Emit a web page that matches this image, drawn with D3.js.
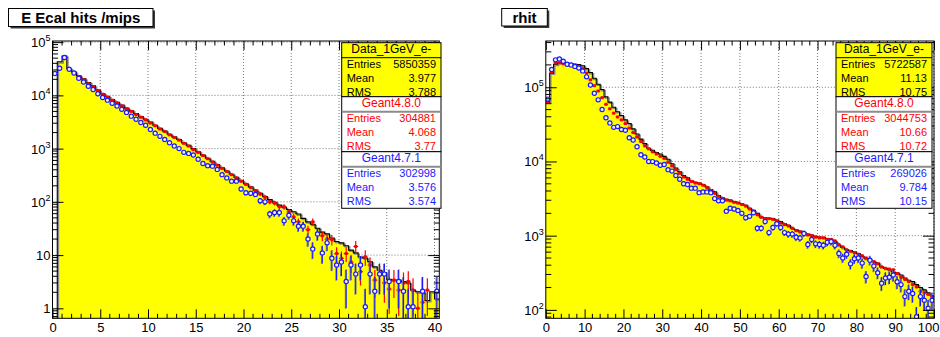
<!DOCTYPE html>
<html>
<head>
<meta charset="utf-8">
<script src="https://cdn.jsdelivr.net/npm/d3@7"></script>
<style>
  body { margin: 0; background: #fff; }
  svg { display: block; font-family: "Liberation Sans", Arial, sans-serif; }
</style>
</head>
<body>
<div id="chart"></div>
<script>
// ---- E Ecal hits /mips : 81 bins of 0.5 ----
const ecalData = [0,42700,55000,31600,27500,23400,20400,17400,15100,12600,
  10700,9550,8320,7410,6610,5750,5130,4570,3980,3550,
  3160,2750,2400,2140,1860,1660,1480,1290,1150,1000,
  871,759,661,575,501,437,380,331,288,251,
  219,191,166,145,126,110,98,87,79,72,
  65,59,49,42,38,32,27,25,21,18,
  17,15,12.4,11,9.2,8.8,7.5,6.0,5.2,4.6,
  3.5,3.4,3.4,3.2,3.0,2.2,2.05,2.0,1.4,2.05,
  1.5];
const ecalG480 = [0,32400,51300,30900,26900,22400,19500,16600,14500,12300,
  10500,9330,8130,7240,6310,5620,5010,4370,3890,3470,
  3020,2690,2340,2090,1820,1620,1450,1260,1120,955,
  851,741,646,562,490,427,372,324,282,245,
  214,186,162,141,123,100,95,81,81,65,
  52,42,36,30,42,26,23,20,19.5,10.7,
  8.7,10.7,7.4,14.5,4.9,9.3,6.5,3.4,4.2,3.0,
  2.3,3.4,2.2,3.0,3.2,2.2,1.0,1.3,2.2,0,
  0];
const ecalG471 = [25700,32400,51300,30900,26300,20900,17800,14800,12900,10700,
  9120,8130,7080,6310,5500,4790,4070,3550,3090,2750,
  2290,1950,1700,1480,1290,1120,1000,851,813,759,
  631,525,479,468,407,324,282,245,245,174,
  148,145,138,105,100,59,63,63,44,56,
  44,35,35,20,13,25,11,17,8.7,6.5,
  7.4,3.2,6.5,4.4,6.5,1.07,4.4,2.1,4.4,4.4,
  3.2,0,3.2,2.1,1.07,1.07,0,2.1,0,0,
  2.1];

// ---- rhit : 100 bins of 1 ----
const rhitData = [63100,155000,204000,214000,209000,209000,208000,204000,203000,195000,
  178000,158000,132000,110000,93300,74100,63100,53700,46800,41700,
  36300,32400,27500,23400,20000,17400,15100,14100,13200,12600,
  11700,10700,9330,8130,7240,6460,6030,5500,5250,5130,
  4900,4570,4170,3890,3470,3240,3090,3020,2880,2820,
  2690,2570,2340,2190,2000,1780,1740,1730,1700,1620,
  1550,1450,1380,1260,1200,1150,1100,1050,1020,980,
  955,950,912,891,832,741,692,646,631,603,
  575,525,490,468,447,427,380,363,347,324,
  316,295,269,251,240,219,200,186,170,155];
const rhitG480 = [63100,162000,214000,214000,209000,204000,204000,200000,191000,178000,
  155000,126000,105000,89100,72400,58900,51300,44700,39800,36300,
  32400,28200,24500,21400,18600,16200,14800,13500,12600,11700,
  11000,9770,8710,7760,6920,6170,5750,5370,5130,5010,
  4790,4470,4070,3720,3390,3160,3020,2950,2820,2750,
  2630,2510,2290,2140,1910,1780,1700,1700,1660,1580,
  1480,1410,1350,1260,1170,1120,1070,1020,1000,955,
  933,933,891,891,851,759,708,646,617,589,
  562,537,501,479,447,417,380,363,355,347,
  309,275,257,240,219,204,178,170,162,151];
const rhitG471 = [69200,174000,234000,240000,224000,204000,200000,191000,182000,166000,
  138000,107000,83200,67600,50100,38900,33100,28800,29500,26900,
  26300,20900,19500,15800,12300,11500,10000,9950,9550,8910,
  9120,7760,7410,6460,5750,5010,4900,4370,4370,3800,
  3890,3890,3800,3160,2950,2950,2140,2340,2290,2190,
  2000,1740,1820,2040,1260,1260,1550,1100,1290,1450,
  1290,1100,1050,1050,955,933,1070,759,891,776,
  759,741,813,832,741,575,501,562,417,490,
  501,427,282,468,389,316,229,269,275,295,
  240,219,151,178,166,81,151,135,105,135];

// ---- stat boxes ----
const statTitles = ["Data_1GeV_e-", "Geant4.8.0", "Geant4.7.1"];
const statLabels = ["Entries", "Mean", "RMS"];
const ecalStats = [["5850359", "3.977", "3.788"], ["304881", "4.068", "3.77"], ["302998", "3.576", "3.574"]];
const rhitStats = [["5722587", "11.13", "10.75"], ["3044753", "10.66", "10.72"], ["269026", "9.784", "10.15"]];

const W = 940, H = 337;
const svg = d3.select("#chart").append("svg").attr("width", W).attr("height", H);

const panels = [
  { id: "ecal", title: "E Ecal hits /mips", titleBox: [8.5, 8.5, 144.5, 18],
    left: 52.5, right: 439.3, top: 41, bottom: 318.3,
    xDomain: [0, 40.5], yDomain: [0.65, 1.05e5], binWidth: 0.5,
    xStep: 5, xMinor: 1, xMax: 40,
    data: ecalData, g480: ecalG480, g471: ecalG471, k480: 1.0, k471: 1.5,
    stats: ecalStats, statsX: [341.7, 441] },
  { id: "rhit", title: "rhit", titleBox: [501.7, 8.5, 45.6, 17.5],
    left: 545.8, right: 934, top: 41, bottom: 318.3,
    xDomain: [0, 100], yDomain: [77, 4.2e5], binWidth: 1,
    xStep: 10, xMinor: 2, xMax: 100,
    data: rhitData, g480: rhitG480, g471: rhitG471, k480: 0.3, k471: 10,
    stats: rhitStats, statsX: [836, 932] }
];

panels.forEach(drawPanel);

function drawPanel(cfg) {
  const x = d3.scaleLinear().domain(cfg.xDomain).range([cfg.left, cfg.right]);
  const y = d3.scaleLog().domain(cfg.yDomain).range([cfg.bottom, cfg.top]);
  const ymin = cfg.yDomain[0];
  const bw = cfg.binWidth;
  const g = svg.append("g");

  svg.append("clipPath").attr("id", "clip-" + cfg.id)
    .append("rect")
    .attr("x", cfg.left).attr("y", cfg.top)
    .attr("width", cfg.right - cfg.left).attr("height", cfg.bottom - cfg.top);

  const xMajor = d3.range(0, cfg.xMax + 0.001, cfg.xStep);
  const xMinor = d3.range(0, cfg.xDomain[1] + 0.001, cfg.xMinor).filter(v => !xMajor.includes(v));
  const e0 = Math.ceil(Math.log10(ymin)), e1 = Math.floor(Math.log10(cfg.yDomain[1]));
  const decades = d3.range(e0, e1 + 1).map(e => Math.pow(10, e));
  const yMinor = [];
  d3.range(e0 - 1, e1 + 1).forEach(e => {
    for (let m = 2; m <= 9; m++) {
      const v = m * Math.pow(10, e);
      if (v > ymin && v < cfg.yDomain[1]) yMinor.push(v);
    }
  });

  // dotted grid (behind histogram)
  const grid = g.append("g").attr("stroke", "#555").attr("stroke-width", 0.8)
    .attr("stroke-dasharray", "1,2");
  grid.selectAll(".gx").data(xMajor.filter(v => v > 0)).join("line")
    .attr("x1", d => x(d)).attr("x2", d => x(d))
    .attr("y1", cfg.top).attr("y2", cfg.bottom);
  grid.selectAll(".gy").data(decades).join("line")
    .attr("x1", cfg.left).attr("x2", cfg.right)
    .attr("y1", d => y(d)).attr("y2", d => y(d));

  const plot = g.append("g").attr("clip-path", `url(#clip-${cfg.id})`);
  const yv = v => y(Math.max(v, ymin));

  // data histogram: yellow fill + black outline with grey shadow
  const steps = [];
  cfg.data.forEach((v, i) => {
    steps.push([x(i * bw), yv(v)], [x((i + 1) * bw), yv(v)]);
  });
  const area = [[x(0), cfg.bottom], ...steps, [x(cfg.data.length * bw), cfg.bottom]];
  plot.append("path").attr("d", d3.line()(area) + "Z").attr("fill", "#ffff00");
  plot.append("path").attr("d", d3.line()(steps)).attr("fill", "none")
    .attr("stroke", "#8a8a8a").attr("stroke-width", 1.4)
    .attr("transform", "translate(1.2,1.2)");
  plot.append("path").attr("d", d3.line()(steps)).attr("fill", "none")
    .attr("stroke", "#000").attr("stroke-width", 1.1);

  // Geant4.8.0 : red crosses with error bars
  const red = plot.append("g");
  cfg.g480.forEach((v, i) => {
    if (v <= 0) return;
    const cx = x((i + 0.5) * bw), cy = y(v);
    const err = Math.sqrt(v * cfg.k480);
    red.append("line").attr("x1", cx).attr("x2", cx)
      .attr("y1", yv(v - err)).attr("y2", y(v + err))
      .attr("stroke", "#ff0000").attr("stroke-width", 1.2);
    red.append("line").attr("x1", x(i * bw)).attr("x2", x((i + 1) * bw))
      .attr("y1", cy).attr("y2", cy)
      .attr("stroke", "#ff0000").attr("stroke-width", 1.2);
    red.append("rect").attr("x", cx - 1.5).attr("y", cy - 1.5)
      .attr("width", 3).attr("height", 3).attr("fill", "#ff0000");
  });

  // Geant4.7.1 : blue open circles with error bars
  const blue = plot.append("g");
  cfg.g471.forEach((v, i) => {
    if (v <= 0) return;
    const cx = x((i + 0.5) * bw), cy = y(v);
    const err = Math.sqrt(v * cfg.k471);
    blue.append("line").attr("x1", cx - 0.8).attr("x2", cx - 0.8)
      .attr("y1", yv(v - err) + 0.5).attr("y2", y(v + err) + 0.5)
      .attr("stroke", "#8c8c8c").attr("stroke-width", 1.2);
    blue.append("line").attr("x1", cx).attr("x2", cx)
      .attr("y1", yv(v - err)).attr("y2", y(v + err))
      .attr("stroke", "#1a1aff").attr("stroke-width", 1.2);
    blue.append("circle").attr("cx", cx).attr("cy", cy).attr("r", 2.1)
      .attr("fill", "#f4f4f4").attr("stroke", "#1a1aff").attr("stroke-width", 1.2);
  });

  // axes: ticks inward on all four sides
  const axes = g.append("g");
  const fixAxis = sel => {
    sel.select(".domain").remove();
    sel.attr("font-family", null).attr("font-size", 13);
    sel.selectAll("line").attr("stroke", "#000");
  };
  axes.append("g").attr("transform", `translate(0,${cfg.bottom})`)
    .call(d3.axisBottom(x).tickValues(xMajor).tickSize(-9).tickPadding(4).tickFormat(d3.format("d")))
    .call(fixAxis)
    .call(sel => sel.selectAll("text")
      .filter(d => x(d) + 12 > W)
      .attr("text-anchor", "end").attr("x", d => W - 1 - x(d)));
  axes.append("g").attr("transform", `translate(0,${cfg.top})`)
    .call(d3.axisTop(x).tickValues(xMajor).tickSize(-9).tickFormat(""))
    .call(fixAxis);
  axes.append("g").attr("transform", `translate(${cfg.left},0)`)
    .call(d3.axisLeft(y).tickValues(decades).tickSize(-11).tickFormat(""))
    .call(fixAxis);
  axes.append("g").attr("transform", `translate(${cfg.right},0)`)
    .call(d3.axisRight(y).tickValues(decades).tickSize(-11).tickFormat(""))
    .call(fixAxis);

  const minor = axes.append("g").attr("stroke", "#000").attr("stroke-width", 1);
  xMinor.forEach(v => {
    minor.append("line").attr("x1", x(v)).attr("x2", x(v)).attr("y1", cfg.bottom).attr("y2", cfg.bottom - 4.5);
    minor.append("line").attr("x1", x(v)).attr("x2", x(v)).attr("y1", cfg.top).attr("y2", cfg.top + 4.5);
  });
  yMinor.forEach(v => {
    minor.append("line").attr("x1", cfg.left).attr("x2", cfg.left + 5.5).attr("y1", y(v)).attr("y2", y(v));
    minor.append("line").attr("x1", cfg.right).attr("x2", cfg.right - 5.5).attr("y1", y(v)).attr("y2", y(v));
  });

  // log labels with superscripts
  decades.forEach(v => {
    const e = Math.round(Math.log10(v));
    const t = axes.append("text").attr("x", cfg.left - 2).attr("y", y(v) + 5)
      .attr("text-anchor", "end").attr("font-size", 13).attr("fill", "#000");
    if (e === 0) t.text("1");
    else if (e === 1) t.text("10");
    else {
      t.append("tspan").text("10");
      t.append("tspan").attr("dy", -6).attr("font-size", 9).text(e);
    }
  });

  // frame
  g.append("rect").attr("x", cfg.left).attr("y", cfg.top)
    .attr("width", cfg.right - cfg.left).attr("height", cfg.bottom - cfg.top)
    .attr("fill", "none").attr("stroke", "#000").attr("stroke-width", 1);

  // title box with shadow
  const [tx, ty, tw, th] = cfg.titleBox;
  g.append("rect").attr("x", tx + 2).attr("y", ty + 2).attr("width", tw).attr("height", th).attr("fill", "#3a3a3a");
  g.append("rect").attr("x", tx).attr("y", ty).attr("width", tw).attr("height", th)
    .attr("fill", "#fff").attr("stroke", "#000").attr("stroke-width", 1);
  g.append("text").attr("x", tx + tw / 2).attr("y", ty + 14.5)
    .attr("text-anchor", "middle").attr("font-size", 15).attr("font-weight", "bold")
    .text(cfg.title);

  drawStats(g, cfg.statsX, cfg.stats);
}

function drawStats(g, [x0, x1], stats) {
  const boxes = [
    { top: 42.7, bottom: 96.7, fill: "#ffff00", color: "#000", sep: "#000", sw: 1 },
    { top: 96.7, bottom: 151.7, fill: "#fff", color: "#ff0000", sep: "#8c8c8c", sw: 2 },
    { top: 151.7, bottom: 208.3, fill: "#fff", color: "#1a1aff", sep: "#8c8c8c", sw: 2 }
  ];
  boxes.forEach((b, i) => {
    const s = g.append("g");
    s.append("rect").attr("x", x0).attr("y", b.top).attr("width", x1 - x0).attr("height", b.bottom - b.top)
      .attr("fill", b.fill).attr("stroke", "#000").attr("stroke-width", 1);
    s.append("line").attr("x1", x0).attr("x2", x1).attr("y1", b.top + 15).attr("y2", b.top + 15)
      .attr("stroke", b.sep).attr("stroke-width", b.sw);
    s.append("text").attr("x", (x0 + x1) / 2).attr("y", b.top + 9.8)
      .attr("text-anchor", "middle").attr("font-size", 12).attr("fill", b.color)
      .text(statTitles[i].replace(/_/g, "_"));
    statLabels.forEach((lab, r) => {
      const by = b.top + 25.6 + r * 13.7;
      s.append("text").attr("x", x0 + 5).attr("y", by).attr("font-size", 11)
        .attr("fill", b.color).text(lab);
      s.append("text").attr("x", x1 - 5).attr("y", by).attr("font-size", 11)
        .attr("text-anchor", "end").attr("fill", b.color).text(stats[i][r]);
    });
  });
}
</script>
</body>
</html>
